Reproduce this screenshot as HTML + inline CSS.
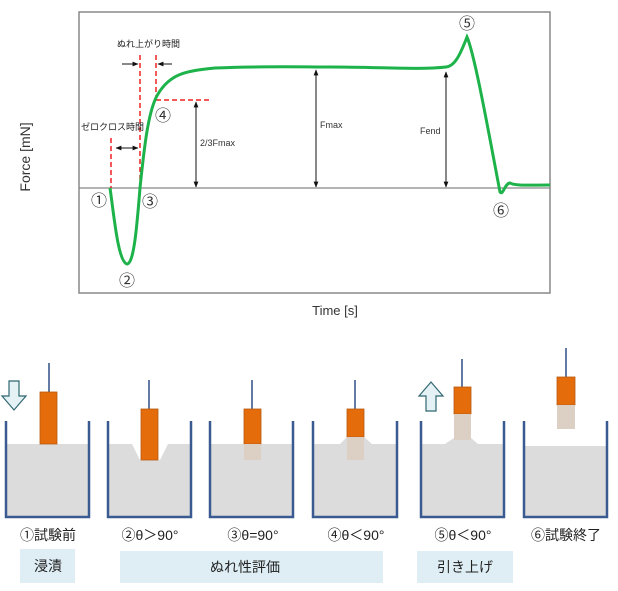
<!DOCTYPE html>
<html><head><meta charset="utf-8"><style>
body{margin:0;background:#fff;width:618px;height:586px;overflow:hidden}
svg text{font-family:"Liberation Sans","Noto Sans CJK JP",sans-serif}
</style></head><body>
<svg width="618" height="586" viewBox="0 0 618 586" xmlns="http://www.w3.org/2000/svg">
<defs>
<marker id="ah" viewBox="0 0 10 10" refX="9" refY="5" markerWidth="6" markerHeight="6" orient="auto-start-reverse"><path d="M0,1 L10,5 L0,9 z" fill="#111"/></marker>
</defs>
<rect x="79" y="12" width="471" height="281" fill="none" stroke="#888" stroke-width="1.5"/>
<line x1="79" y1="188" x2="550" y2="188" stroke="#888" stroke-width="1.2"/>
<text transform="translate(30,157) rotate(-90)" font-size="14" text-anchor="middle" fill="#333">Force [mN]</text>
<text x="335" y="315" font-size="13" text-anchor="middle" fill="#333">Time [s]</text>
<!-- dashed red -->
<g stroke="#e22" stroke-width="1.5" stroke-dasharray="5,3" fill="none">
<line x1="111" y1="138" x2="111" y2="188"/>
<line x1="140" y1="55" x2="140" y2="188"/>
<line x1="156" y1="55" x2="156" y2="100"/>
<line x1="156" y1="100" x2="210" y2="100"/>
</g>
<g stroke="#111" stroke-width="1" fill="none">
<line x1="196" y1="102" x2="196" y2="187" marker-start="url(#ah)" marker-end="url(#ah)"/>
<line x1="316" y1="70" x2="316" y2="187" marker-start="url(#ah)" marker-end="url(#ah)"/>
<line x1="446" y1="72" x2="446" y2="187" marker-start="url(#ah)" marker-end="url(#ah)"/>
<line x1="116" y1="148" x2="138" y2="148" marker-start="url(#ah)" marker-end="url(#ah)"/>
<line x1="122" y1="64" x2="138" y2="64" marker-end="url(#ah)"/>
<line x1="172" y1="64" x2="158" y2="64" marker-end="url(#ah)"/>
</g>
<text x="200" y="146" font-size="9" fill="#333">2/3Fmax</text>
<text x="320" y="128" font-size="9" fill="#333">Fmax</text>
<text x="420" y="134" font-size="9" fill="#333">Fend</text>
<text x="117" y="47" font-size="9" fill="#222">ぬれ上がり時間</text>
<text x="81" y="130" font-size="9" fill="#222">ゼロクロス時間</text>
<path d="M110,188 C114,215 118,262 127,264 C134,264 137,225 140,188 C144,150 148,110 158,94 C170,74 185,71 215,68 C260,66 300,67 330,67 C380,67 420,70 446,67 C455,66 460,55 467,37 C475,55 490,140 500,192 C503,196 505,183 510,183 C515,186 530,185 550,185" fill="none" stroke="#1db34a" stroke-width="3"/>
<g font-size="16" fill="#333" text-anchor="middle">
<text x="99" y="206">①</text><text x="127" y="286">②</text><text x="150" y="207">③</text><text x="163" y="121">④</text><text x="467" y="29">⑤</text><text x="501" y="216">⑥</text>
</g>
<!-- beakers -->
<g>
<rect x="7" y="444" width="81" height="73" fill="#dcdcdc"/>
<rect x="109" y="444" width="81" height="73" fill="#dcdcdc"/>
<rect x="211" y="444" width="81" height="73" fill="#dcdcdc"/>
<rect x="314" y="444" width="82" height="73" fill="#dcdcdc"/>
<rect x="422" y="444" width="81" height="73" fill="#dcdcdc"/>
<rect x="525" y="446" width="81" height="71" fill="#dcdcdc"/>
<polygon points="132,444 168,444 160,460 140,460" fill="#fff"/>
<polygon points="340,444 347,437 364,437 372,444" fill="#dcdcdc"/>
<polygon points="445,444 454,438 471,438 478,444" fill="#dcdcdc"/>
</g>
<g stroke="#3a5a92" stroke-width="2.5" fill="none">
<path d="M6,421 V517 H89 V421"/><path d="M108,421 V517 H191 V421"/><path d="M210,421 V517 H293 V421"/><path d="M313,421 V517 H397 V421"/><path d="M421,421 V517 H504 V421"/><path d="M524,421 V517 H607 V421"/>
</g>
<g stroke="#2e4f86" stroke-width="1.5">
<line x1="49" y1="363" x2="49" y2="392"/><line x1="149" y1="380" x2="149" y2="409"/><line x1="252" y1="380" x2="252" y2="409"/><line x1="355" y1="380" x2="355" y2="409"/><line x1="462" y1="359" x2="462" y2="387"/><line x1="566" y1="348" x2="566" y2="377"/>
</g>
<g stroke="#b55a10" stroke-width="0.8" fill="#e46c0a">
<rect x="40" y="392" width="17" height="52"/><rect x="141" y="409" width="17" height="51"/><rect x="244" y="409" width="17" height="35"/><rect x="347" y="409" width="17" height="28"/><rect x="454" y="387" width="17" height="27"/><rect x="557" y="377" width="18" height="28"/>
</g>
<g fill="#dccfc4">
<rect x="244" y="444" width="17" height="16"/><rect x="347" y="437" width="17" height="23"/><rect x="454" y="414" width="17" height="26"/><rect x="557" y="405" width="18" height="24"/>
</g>
<path d="M9,381 H19 V396 H26 L14,410 L2,396 H9 Z" fill="#e4f2f5" stroke="#2f6670" stroke-width="1.2"/>
<path d="M426,411 H436 V396 H443 L431,382 L419,396 H426 Z" fill="#e4f2f5" stroke="#2f6670" stroke-width="1.2"/>
<g font-size="14" fill="#222" text-anchor="middle">
<text x="48" y="540">①試験前</text><text x="150" y="540">②θ＞90°</text><text x="253" y="540">③θ=90°</text><text x="356" y="540">④θ＜90°</text><text x="463" y="540">⑤θ＜90°</text><text x="566" y="540">⑥試験終了</text>
</g>
<rect x="20" y="549" width="55" height="34" fill="#deeef4"/>
<rect x="120" y="551" width="263" height="32" fill="#deeef4"/>
<rect x="417" y="551" width="96" height="32" fill="#deeef4"/>
<g font-size="14" fill="#222" text-anchor="middle">
<text x="48" y="571">浸漬</text><text x="245" y="572">ぬれ性評価</text><text x="465" y="572">引き上げ</text>
</g>
</svg>
</body></html>
